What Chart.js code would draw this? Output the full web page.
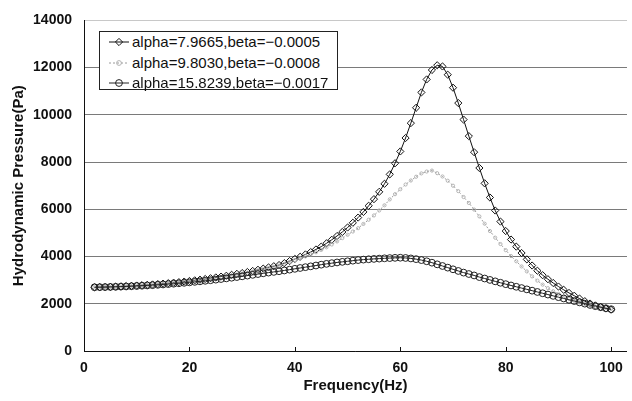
<!DOCTYPE html>
<html>
<head>
<meta charset="utf-8">
<script src="https://cdn.jsdelivr.net/npm/chart.js@4/dist/chart.umd.min.js"></script>
<style>
  html, body { margin: 0; padding: 0; background: #fff; }
  #wrap { position: relative; width: 632px; height: 401px; }
  #legend { position: absolute; left: 99px; top: 31px; width: 237px; height: 57px; border: 1px solid #222; background: #fff;
            font-family: "Liberation Sans", Arial, sans-serif; font-size: 15px; color: #111; }
  .row { position: absolute; left: 0; height: 19px; line-height: 19px; white-space: nowrap; }
  .row svg { position: absolute; left: 9px; top: 4px; }
  .row span { position: absolute; left: 32px; top: 0; }
</style>
</head>
<body>
<div id="wrap">
  <canvas id="c" width="632" height="401"></canvas>
  <div id="legend"></div>
</div>
<script>
const frequencies = [2,3,4,5,6,7,8,9,10,11,12,13,14,15,16,17,18,19,20,21,22,23,24,25,26,27,28,29,30,31,32,33,34,35,36,37,38,39,40,41,42,43,44,45,46,47,48,49,50,51,52,53,54,55,56,57,58,59,60,61,62,63,64,65,66,67,68,69,70,71,72,73,74,75,76,77,78,79,80,81,82,83,84,85,86,87,88,89,90,91,92,93,94,95,96,97,98,99,100];

const seriesNames = ["alpha=7.9665,beta=\u22120.0005", "alpha=9.8030,beta=\u22120.0008", "alpha=15.8239,beta=\u22120.0017"];

const pressureA = [2700,2705,2710,2718,2727,2737,2748,2760,2773,2787,2802,2818,2835,2853,2873,2894,2916,2940,2965,2992,3020,3050,3082,3115,3150,3187,3226,3267,3300,3345,3390,3440,3490,3540,3590,3640,3720,3810,3900,3990,4090,4190,4300,4420,4560,4710,4870,5040,5230,5430,5650,5890,6150,6430,6740,7080,7480,7950,8450,9020,9650,10300,10950,11500,11900,12100,12050,11700,11150,10500,9800,9100,8420,7750,7100,6500,5950,5480,5080,4720,4420,4150,3880,3620,3400,3210,3040,2880,2730,2590,2460,2340,2220,2110,2010,1930,1860,1800,1750];

const pressureB = [2695,2700,2705,2712,2720,2730,2740,2752,2765,2778,2793,2808,2825,2843,2862,2882,2903,2926,2950,2975,3002,3030,3060,3092,3125,3160,3197,3236,3277,3320,3365,3412,3460,3510,3562,3615,3690,3770,3850,3925,4005,4090,4180,4280,4390,4510,4640,4780,4920,5060,5200,5380,5560,5740,5950,6170,6420,6640,6850,7050,7220,7380,7520,7600,7640,7530,7390,7210,7000,6770,6520,6270,5990,5700,5390,5080,4800,4530,4270,4020,3800,3580,3370,3160,2980,2810,2660,2530,2420,2310,2210,2130,2060,1990,1930,1880,1850,1810,1780];

const pressureC = [2700,2703,2707,2712,2718,2725,2733,2742,2752,2763,2775,2788,2802,2817,2833,2850,2868,2887,2907,2928,2950,2973,2997,3022,3048,3075,3103,3132,3162,3193,3225,3258,3290,3320,3350,3378,3410,3445,3480,3515,3550,3585,3620,3655,3690,3720,3750,3775,3800,3825,3850,3870,3885,3900,3912,3925,3935,3945,3950,3940,3920,3890,3850,3800,3740,3670,3600,3530,3460,3390,3320,3260,3200,3130,3070,3010,2950,2890,2830,2775,2720,2665,2610,2555,2500,2445,2390,2335,2280,2225,2170,2115,2060,2005,1950,1900,1855,1810,1770];

const yTickValues = [0,2000,4000,6000,8000,10000,12000,14000];
const xTickValues = [0,20,40,60,80,100];

const toPoints = vals => frequencies.map((f, i) => ({x: f, y: vals[i]}));

const styles = [
  {borderColor:'#111', borderWidth:1, borderDash:[], pointStyle:'rectRot', pointRadius:3.6, pointBorderColor:'#111', pointBorderWidth:1},
  {borderColor:'#9a9a9a', borderWidth:1, borderDash:[2,2], pointStyle:'circle', pointRadius:1.6, pointBorderColor:'#b4b4b4', pointBorderWidth:1},
  {borderColor:'#222', borderWidth:1, borderDash:[], pointStyle:'circle', pointRadius:3.4, pointBorderColor:'#222', pointBorderWidth:1}
];
const seriesValues = [pressureA, pressureB, pressureC];

const datasets = seriesValues.map((vals, i) => Object.assign({
  label: seriesNames[i],
  data: toPoints(vals),
  pointBackgroundColor: 'rgba(0,0,0,0)',
  fill: false,
  tension: 0
}, styles[i])).reverse();

const inwardTicks = {
  id: 'inwardTicks',
  afterDraw(chart) {
    const xs = chart.scales.x, ctx = chart.ctx;
    ctx.save();
    ctx.strokeStyle = '#111';
    ctx.lineWidth = 1;
    xTickValues.forEach(v => {
      const px = Math.round(xs.getPixelForValue(v)) + 0.5;
      ctx.beginPath();
      ctx.moveTo(px, xs.top);
      ctx.lineTo(px, xs.top - 4);
      ctx.stroke();
    });
    ctx.restore();
  }
};

const font = "'Liberation Sans', Arial, sans-serif";

new Chart(document.getElementById('c'), {
  type: 'line',
  data: { datasets },
  options: {
    responsive: false,
    animation: false,
    layout: { padding: { top: 16, right: 0, left: 0, bottom: 0 } },
    plugins: { legend: { display: false }, tooltip: { enabled: false } },
    scales: {
      x: {
        type: 'linear', min: 0, max: 103,
        afterBuildTicks: s => { s.ticks = xTickValues.map(v => ({value: v})); },
        afterFit: s => { s.height = 50; },
        grid: { display: true, drawOnChartArea: false, drawTicks: false },
        border: { display: true, color: '#111', width: 1 },
        ticks: { color: '#111', font: { family: font, size: 14, weight: 'bold' }, padding: 9, maxRotation: 0, callback: v => String(v) },
        title: { display: true, text: 'Frequency(Hz)', color: '#111', font: { family: font, size: 15, weight: 'bold' }, padding: { top: 0, bottom: 6 } }
      },
      y: {
        min: 0, max: 14000,
        afterBuildTicks: s => { s.ticks = yTickValues.map(v => ({value: v})); },
        afterFit: s => { s.width = 84; },
        grid: { drawTicks: false, color: c => c.tick && c.tick.value === 14000 ? '#c8c8c8' : '#7a7a7a', lineWidth: 1 },
        border: { display: true, color: '#111', width: 1 },
        ticks: { color: '#111', font: { family: font, size: 14, weight: 'bold' }, padding: 12, callback: v => String(v) },
        title: { display: true, text: 'Hydrodynamic Pressure(Pa)', color: '#111', font: { family: font, size: 15, weight: 'bold' }, padding: { top: 10, bottom: 0 } }
      }
    }
  },
  plugins: [inwardTicks]
});

// legend (HTML text), markers mirror dataset styles
const legend = document.getElementById('legend');
const markerSvg = i => {
  const st = styles[i];
  const dash = st.borderDash.length ? ` stroke-dasharray="${st.borderDash.join(',')}"` : '';
  let m;
  if (st.pointStyle === 'rectRot') {
    const r = st.pointRadius;
    m = `<polygon points="10,${6-r} ${10+r},6 10,${6+r} ${10-r},6" fill="none" stroke="${st.pointBorderColor}" stroke-width="1"/>`;
  } else {
    m = `<circle cx="10" cy="6" r="${Math.max(st.pointRadius, 2.4)}" fill="none" stroke="${st.pointBorderColor}" stroke-width="1"/>`;
  }
  return `<svg width="20" height="12"><line x1="0" y1="6" x2="20" y2="6" stroke="${st.borderColor}" stroke-width="1"${dash}/>${m}</svg>`;
};
seriesNames.forEach((name, i) => {
  const row = document.createElement('div');
  row.className = 'row';
  row.style.top = (i * 20.5) + 'px';
  row.innerHTML = markerSvg(i) + `<span>${name}</span>`;
  legend.appendChild(row);
});
</script>
</body>
</html>
